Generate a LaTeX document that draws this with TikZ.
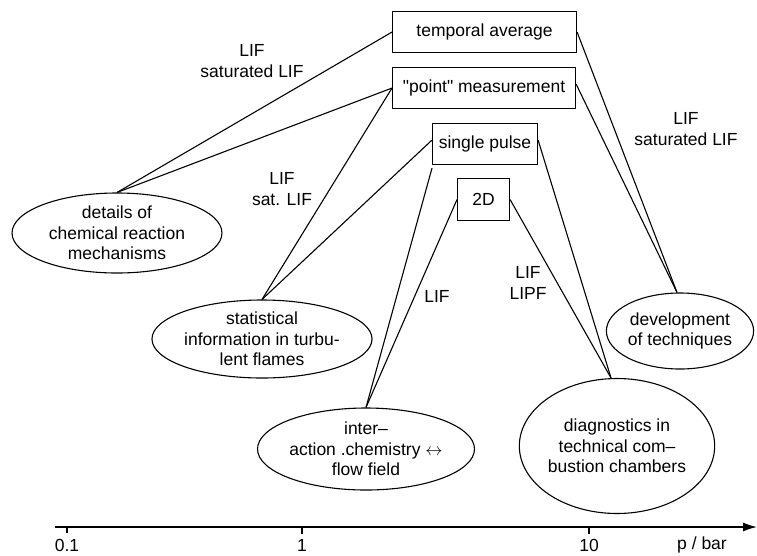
\documentclass[tikz,border=0pt]{standalone}
\usepackage{fontspec}
\setmainfont{Liberation Sans}
\usetikzlibrary{shapes.geometric,arrows.meta}
\begin{document}
\begin{tikzpicture}[x=1pt,y=-1pt,
  every node/.style={font=\fontsize{17.5}{20.5}\selectfont},
  box/.style={draw,line width=1.1pt,rectangle,inner sep=0pt,anchor=north west},
  oval/.style={draw,line width=1.1pt,ellipse,inner sep=0pt,align=center},
  conn/.style={line width=1.1pt},
  lbl/.style={align=center,inner sep=0pt},
  axlbl/.style={inner sep=0pt},
  tick/.style={line width=1.1pt}]
\useasboundingbox (0,0) rectangle (757,555);
% boxes
\node[box,minimum width=184pt,minimum height=41pt] (temp) at (392,11) {temporal average};
\node[box,minimum width=183pt,minimum height=41pt] (pm) at (392,67) {\textquotedbl point\textquotedbl\ measurement};
\node[box,minimum width=105pt,minimum height=41pt] (sp) at (432,123) {single pulse};
\node[box,minimum width=52pt,minimum height=42pt] (twod) at (457,178) {2D};
% ellipses
\node[oval,minimum width=210pt,minimum height=80pt] (det) at (117,233) {details of\\chemical reaction\\mechanisms};
\node[oval,minimum width=210pt,minimum height=78pt] (stat) at (262,339) {statistical\\information in turbu-\\lent flames};
\node[oval,minimum width=184pt,minimum height=82pt] (inter) at (366,449) {inter--\\action .chemistry $\leftrightarrow$\\flow field};
\node[oval,minimum width=170pt,minimum height=135pt] (diag) at (617,446) {diagnostics in\\technical com--\\bustion chambers};
\node[oval,minimum width=134pt,minimum height=76pt] (dev) at (680,331) {development\\of techniques};
% connectors
\draw[conn] (det.north) -- (temp.west);
\draw[conn] (det.north) -- (pm.west);
\draw[conn] (stat.north) -- (pm.west);
\draw[conn] (stat.north) -- ([yshift=4pt]sp.west);
\draw[conn] (inter.north) -- ([yshift=-3pt]sp.south west);
\draw[conn] (inter.north) -- (twod.west);
\draw[conn] (twod.east) -- ([xshift=-6pt]diag.north);
\draw[conn] ([yshift=4pt]sp.east) -- ([xshift=-6pt]diag.north);
\draw[conn] (temp.east) -- ([xshift=-3pt]dev.north);
\draw[conn] ([yshift=4pt]pm.east) -- ([xshift=-3pt]dev.north);
% labels
\node[lbl] (l1) at (252,61) {LIF\\saturated LIF};
\node[lbl] (l2) at (282,189) {LIF\\sat. LIF};
\node[lbl] (l3) at (686,129) {LIF\\saturated LIF};
\node[lbl] (l4) at (437,296) {LIF};
\node[lbl] (l5) at (528,283) {LIF\\LIPF};
% axis
\coordinate (ax0) at (55,527);
\coordinate (ax1) at (757,527);
\draw[line width=1.4pt,-{Latex[length=14pt,width=9pt]}] (ax0) -- (ax1);
\coordinate (t1) at (67,527);
\coordinate (t2) at (302,527);
\coordinate (t3) at (589,527);
\draw[tick] (t1) -- ++(0,6);
\draw[tick] (t2) -- ++(0,7);
\draw[tick] (t3) -- ++(0,7);
\node[axlbl] (n1) at (67,545) {0.1};
\node[axlbl] (n2) at (302,545) {1};
\node[axlbl] (n3) at (589,545) {10};
\node[axlbl] (n4) at (702,545) {p / bar};
\end{tikzpicture}
\end{document}
